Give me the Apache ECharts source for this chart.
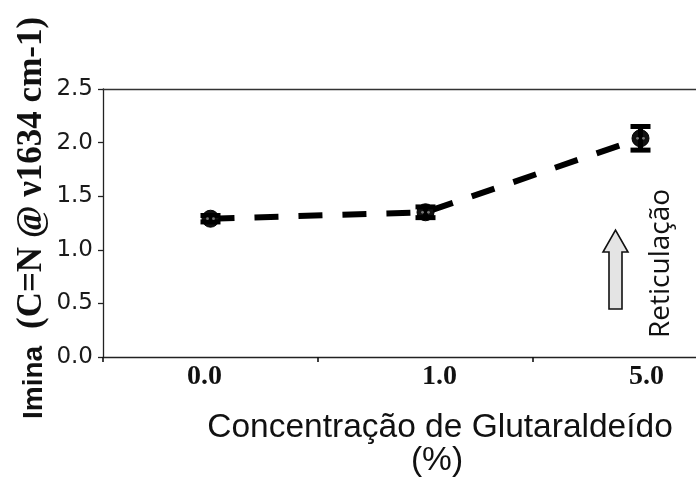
<!DOCTYPE html>
<html>
<head>
<meta charset="utf-8">
<script src="https://cdn.jsdelivr.net/npm/echarts@6/dist/echarts.min.js"></script>
<style>
html,body{margin:0;padding:0;background:#fff;}
#chart{width:696px;height:477px;}
</style>
</head>
<body>
<div id="chart"></div>
<script>
// Glutaraldehyde concentration (%) and imine band intensity
const categories = ['0.0', '1.0', '5.0'];
const imineValues = [1.29, 1.35, 2.04];
const imineErrors = [0.03, 0.05, 0.11];
const yTicks = [0, 0.5, 1.0, 1.5, 2.0, 2.5];

const chart = echarts.init(document.getElementById('chart'), null, {renderer: 'canvas'});

const errorData = categories.map((c, i) => [i, imineValues[i] - imineErrors[i], imineValues[i] + imineErrors[i]]);

// horizontal nudges (px) for the category labels
const labelShift = [-6, 14, 6];
const catLabelStyle = {fontFamily: 'Liberation Serif', fontWeight: 'bold', fontSize: 28, color: '#111'};
const catRich = {};
labelShift.forEach((s, i) => {
  catRich['l' + i] = Object.assign({}, catLabelStyle, {
    padding: s >= 0 ? [0, 0, 0, 2 * s] : [0, -2 * s, 0, 0]
  });
});

const option = {
  animation: false,
  backgroundColor: '#ffffff',
  grid: {left: 103, top: 89, width: 645, bottom: 120, outerBoundsMode: 'none', containLabel: false},
  xAxis: [{
    type: 'category',
    data: categories,
    boundaryGap: true,
    axisLine: {show: true, lineStyle: {color: '#222', width: 1.3}},
    axisTick: {show: true, inside: false, length: 5, lineStyle: {color: '#111', width: 1.6}},
    axisLabel: {
      margin: 6,
      fontFamily: 'Liberation Serif', fontWeight: 'bold', fontSize: 28, color: '#111',
      formatter: (v, i) => '{l' + i + '|' + v + '}',
      rich: catRich
    },
    splitLine: {show: false}
  }, {
    type: 'category',
    position: 'top',
    data: categories,
    axisLine: {show: true, lineStyle: {color: '#333', width: 1.3}},
    axisTick: {show: false},
    axisLabel: {show: false}
  }],
  yAxis: {
    type: 'value',
    min: yTicks[0],
    max: yTicks[yTicks.length - 1],
    interval: 0.5,
    axisLine: {show: true, lineStyle: {color: '#222', width: 1.3}},
    axisTick: {show: true, inside: false, length: 5, lineStyle: {color: '#222', width: 1.3}},
    splitLine: {show: false},
    axisLabel: {
      margin: 10,
      fontFamily: 'DejaVu Sans',
      fontSize: 23,
      color: '#1a1a1a',
      formatter: v => v.toFixed(1)
    }
  },
  series: [{
    type: 'line',
    data: imineValues,
    symbol: 'circle',
    symbolSize: 17,
    itemStyle: {color: '#111', borderColor: '#000', borderWidth: 1},
    lineStyle: {color: '#000', width: 6, type: [24, 20]},
    z: 3
  }, {
    type: 'custom',
    data: errorData,
    z: 4,
    renderItem: function (params, api) {
      const x = api.coord([api.value(0), 0])[0];
      const lo = api.coord([api.value(0), api.value(1)]);
      const hi = api.coord([api.value(0), api.value(2)]);
      const mid = api.coord([api.value(0), (api.value(1) + api.value(2)) / 2]);
      const cap = 10;
      const st = {stroke: '#000', lineWidth: 5};
      return {
        type: 'group',
        children: [
          {type: 'line', shape: {x1: x, y1: lo[1], x2: x, y2: hi[1]}, style: st},
          {type: 'line', shape: {x1: x - cap, y1: lo[1], x2: x + cap, y2: lo[1]}, style: st},
          {type: 'line', shape: {x1: x - cap, y1: hi[1], x2: x + cap, y2: hi[1]}, style: st},
          {type: 'circle', shape: {cx: x - 3, cy: mid[1], r: 1.4}, style: {fill: '#777'}},
          {type: 'circle', shape: {cx: x + 3, cy: mid[1], r: 1.4}, style: {fill: '#777'}}
        ]
      };
    }
  }],
  graphic: [
    // y axis title: sans "Imina" followed by a bold serif band description
    {
      type: 'text',
      rotation: Math.PI / 2,
      x: 20, y: 419,
      style: {
        text: 'Imina',
        fontFamily: 'Liberation Sans',
        fontWeight: 'bold',
        fontSize: 28,
        fill: '#111',
        align: 'left',
        verticalAlign: 'top'
      }
    },
    {
      type: 'text',
      rotation: Math.PI / 2,
      x: 14, y: 329,
      style: {
        text: '(C=N @ ν1634 cm-1)',
        fontFamily: 'Liberation Serif',
        fontWeight: 'bold',
        fontSize: 35,
        fill: '#111',
        align: 'left',
        verticalAlign: 'top'
      }
    },
    // x axis title
    {
      type: 'text',
      x: 440, y: 411,
      style: {
        text: 'Concentração de Glutaraldeído',
        fontFamily: 'Liberation Sans',
        fontSize: 33.5,
        fill: '#111',
        align: 'center',
        verticalAlign: 'top'
      }
    },
    {
      type: 'text',
      x: 437, y: 444,
      style: {
        text: '(%)',
        fontFamily: 'Liberation Sans',
        fontSize: 33.5,
        fill: '#111',
        align: 'center',
        verticalAlign: 'top'
      }
    },
    // cross-linking arrow and note
    {
      type: 'polygon',
      shape: {
        points: [[609, 309], [609, 252], [603, 252], [615.5, 230], [628, 252], [622, 252], [622, 309]]
      },
      style: {fill: '#e4e4e4', stroke: '#111', lineWidth: 1.6}
    },
    {
      type: 'text',
      rotation: Math.PI / 2,
      x: 647,
      y: 338,
      style: {
        text: 'Reticulação',
        fontFamily: 'Open Sans',
        fontSize: 28,
        fill: '#111',
        align: 'left',
        verticalAlign: 'top'
      }
    }
  ]
};

chart.setOption(option);
</script>
</body>
</html>
